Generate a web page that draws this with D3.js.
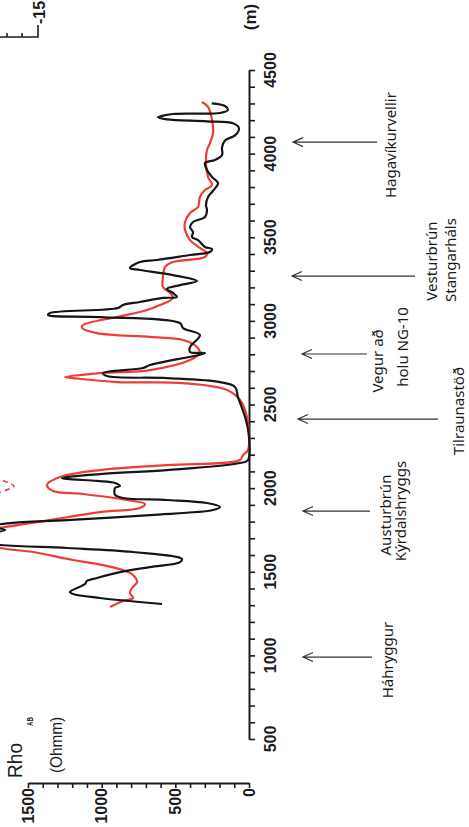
<!DOCTYPE html>
<html><head><meta charset="utf-8">
<script src="https://cdn.jsdelivr.net/npm/d3@7"></script>
<style>body{margin:0;background:#fff;} svg{display:block}</style>
</head><body><svg id="c" width="469" height="827"></svg>
<script>
// ---- data ----
const distTicks = d3.range(500, 4501, 100);
const distLabels = [500, 1000, 1500, 2000, 2500, 3000, 3500, 4000, 4500];
const rhoTicks = d3.range(0, 1501, 100);
const rhoLabels = [0, 500, 1000, 1500];

const blackDist = [4301,4285,4261,4243,4237,4217,4205,4193,4181,4151,
  4109,4079,4037,3992,3962,3944,3902,3860,3824,3778,
  3741,3693,3663,3621,3591,3561,3531,3501,3483,3442,
  3430,3412,3394,3364,3352,3316,3304,3274,3238,3214,
  3191,3167,3143,3137,3113,3095,3077,3047,3035,3023,
  2987,2957,2915,2844,2814,2808,2736,2718,2688,2670,
  2658,2634,2605,2545,2425,2330,2168,2150,2108,2084,
  2061,2055,2043,2031,2013,2001,1959,1941,1929,1911,
  1887,1869,1839,1809,1791,1773,1750,1702,1660,1642,
  1618,1576,1558,1528,1498,1463,1445,1427,1379,1367,
  1343,1319,1307];
const blackRho = [253,163,143,197,516,618,557,285,109,68,
  95,163,183,183,231,299,285,251,210,244,
  278,292,285,299,380,400,380,387,346,299,
  251,265,400,624,740,808,740,516,353,468,
  557,516,489,584,740,855,889,1351,1364,1011,
  468,448,333,400,400,299,672,719,991,964,
  557,197,95,75,27,3,7,61,557,1011,
  1269,1235,1032,909,876,909,909,855,557,285,
  197,244,672,1235,1622,1744,1656,2100,1690,1235,
  787,455,468,672,876,1032,1100,1113,1215,1194,
  1011,740,590];

const redDist = [4309,4279,4201,4123,4063,4022,3944,3860,3812,3782,
  3741,3681,3645,3591,3543,3483,3436,3406,3382,3352,
  3322,3262,3202,3167,3137,3095,3065,3023,2975,2957,
  2927,2904,2886,2844,2808,2766,2706,2688,2664,2658,
  2634,2628,2587,2527,2425,2228,2198,2168,2138,2108,
  2066,2019,1983,1965,1929,1905,1881,1857,1809,1762,
  1710,1642,1618,1570,1540,1510,1481,1439,1403,1373,
  1343,1325,1289];
const redRho = [319,278,251,244,265,285,292,278,251,299,
  333,346,400,434,434,400,333,285,299,516,
  570,584,584,536,516,604,692,896,1127,1133,
  1032,672,448,353,333,400,672,1011,1249,1194,
  896,448,149,61,14,7,41,61,557,1011,
  1283,1371,1330,1127,828,706,740,1011,1351,1690,
  2000,1690,1466,1194,991,855,787,760,794,808,
  787,855,943];

const dashDist = [2058, 2013, 1965];
const dashRho = [1730, 1595, 1730];

const annoDist = [990, 1863, 2413, 2802, 3268, 4069];
const annoText = [["Háhryggur"], ["Austurbrún", "Kýrdalshryggs"], ["Tilraunastöð"],
                  ["Vegur að", "holu NG-10"], ["Vesturbrún", "Stangarháls"], ["Hagavíkurvellir"]];

// ---- layout (pixels) ----
const arrowTip = [303, 303, 298, 302, 292, 293];
const arrowTail = [372, 370, 438, 367, 415, 377];
const textPos = [ // [baselineX, dy from arrow] per line
  [[393, 3]],
  [[391, 4], [406, 0]],
  [[464, -8]],
  [[383, 7], [408, -7]],
  [[437, -15], [456, -16]],
  [[396, 3]]
];

const svg = d3.select('#c');
const y = d3.scaleLinear().domain([500, 4500]).range([739, 70]);
const x = d3.scaleLinear().domain([0, 1500]).range([249, 28]);
const ink = '#1c1c1c';
const font = 'Liberation Sans, Arial, sans-serif';

// distance axis
const dAxis = d3.axisRight(y).tickValues(distTicks).tickSize(6).tickSizeOuter(0).tickFormat('');
const gd = svg.append('g').attr('transform', 'translate(249,0)').call(dAxis);
gd.select('.domain').attr('stroke', ink).attr('stroke-width', 2);
gd.selectAll('.tick line').attr('stroke', ink).attr('stroke-width', 1.6);

svg.append('g').selectAll('text').data(distLabels).join('text')
  .attr('transform', d => `translate(276,${y(d)}) rotate(-90)`)
  .attr('text-anchor', 'middle')
  .attr('font-family', font)
  .attr('font-weight', 'bold').attr('font-size', 16).attr('fill', ink)
  .text(d => d);

// rho axis
const rAxis = d3.axisBottom(x).tickValues(rhoTicks).tickSize(5).tickSizeOuter(0).tickFormat('');
const gr = svg.append('g').attr('transform', 'translate(0,783)').call(rAxis);
gr.select('.domain').attr('stroke', ink).attr('stroke-width', 2);
gr.selectAll('.tick line').attr('stroke', ink).attr('stroke-width', 1.6);

svg.append('g').selectAll('text').data(rhoLabels).join('text')
  .attr('transform', d => `translate(${x(d) + 5.7},788) rotate(-90)`)
  .attr('text-anchor', 'end')
  .attr('font-family', font)
  .attr('font-weight', 'bold').attr('font-size', 16).attr('fill', ink)
  .text(d => d);

// axis titles
svg.append('text').attr('transform', 'translate(256,17) rotate(-90)')
  .attr('text-anchor', 'middle').attr('font-family', font)
  .attr('font-weight', 'bold').attr('font-size', 17).attr('fill', ink).text('(m)');
svg.append('text').attr('transform', 'translate(22,778) rotate(-90)')
  .attr('font-family', font).attr('textLength', 35).attr('lengthAdjust', 'spacingAndGlyphs')
  .attr('font-size', 21).attr('fill', ink).text('Rho');
svg.append('text').attr('transform', 'translate(33,726) rotate(-90)')
  .attr('font-family', font).attr('font-weight', 'bold')
  .attr('textLength', 9).attr('lengthAdjust', 'spacingAndGlyphs')
  .attr('font-size', 8.5).attr('fill', ink).text('AB');
svg.append('text').attr('transform', 'translate(62,773) rotate(-90)')
  .attr('font-family', font).attr('textLength', 56).attr('lengthAdjust', 'spacingAndGlyphs')
  .attr('font-size', 16).attr('fill', ink).text('(Ohmm)');

// fragment of neighbouring panel (top-left)
svg.append('path').attr('d', 'M0,37H38V25M7,37V33M22,37V33')
  .attr('fill', 'none').attr('stroke', ink).attr('stroke-width', 1.6);
svg.append('text').attr('transform', 'translate(45,24) rotate(-90)')
  .attr('font-family', font)
  .attr('font-weight', 'bold').attr('font-size', 16).attr('fill', ink).text('-15');

// curves
const line = d3.line().x(d => x(d[1])).y(d => y(d[0])).curve(d3.curveCatmullRom.alpha(0.5));
svg.append('path').datum(d3.zip(redDist, redRho)).attr('d', line)
  .attr('fill', 'none').attr('stroke', '#ee3d36').attr('stroke-width', 2.2).attr('stroke-linejoin', 'round');
svg.append('path').datum(d3.zip(blackDist, blackRho)).attr('d', line)
  .attr('fill', 'none').attr('stroke', '#151515').attr('stroke-width', 2.2).attr('stroke-linejoin', 'round');
svg.append('path').datum(d3.zip(dashDist, dashRho)).attr('d', line.curve(d3.curveCardinal))
  .attr('fill', 'none').attr('stroke', '#ee3d36').attr('stroke-width', 1.6).attr('stroke-dasharray', '5,4');

// annotations
annoDist.forEach((dv, i) => {
  const yy = y(dv);
  const t = arrowTip[i];
  svg.append('path').attr('d', `M${arrowTail[i]},${yy}H${t}M${t + 10},${yy - 4.5}L${t},${yy}L${t + 10},${yy + 4.5}`)
    .attr('fill', 'none').attr('stroke', '#333').attr('stroke-width', 1.2);
  annoText[i].forEach((s, j) => {
    const [bx, dy] = textPos[i][j];
    svg.append('text').attr('transform', `translate(${bx},${yy + dy}) rotate(-90)`)
      .attr('text-anchor', 'middle').attr('font-family', 'Noto Sans, sans-serif')
      .attr('font-size', 15).attr('fill', '#1a1a1a').text(s);
  });
});
</script></body></html>
